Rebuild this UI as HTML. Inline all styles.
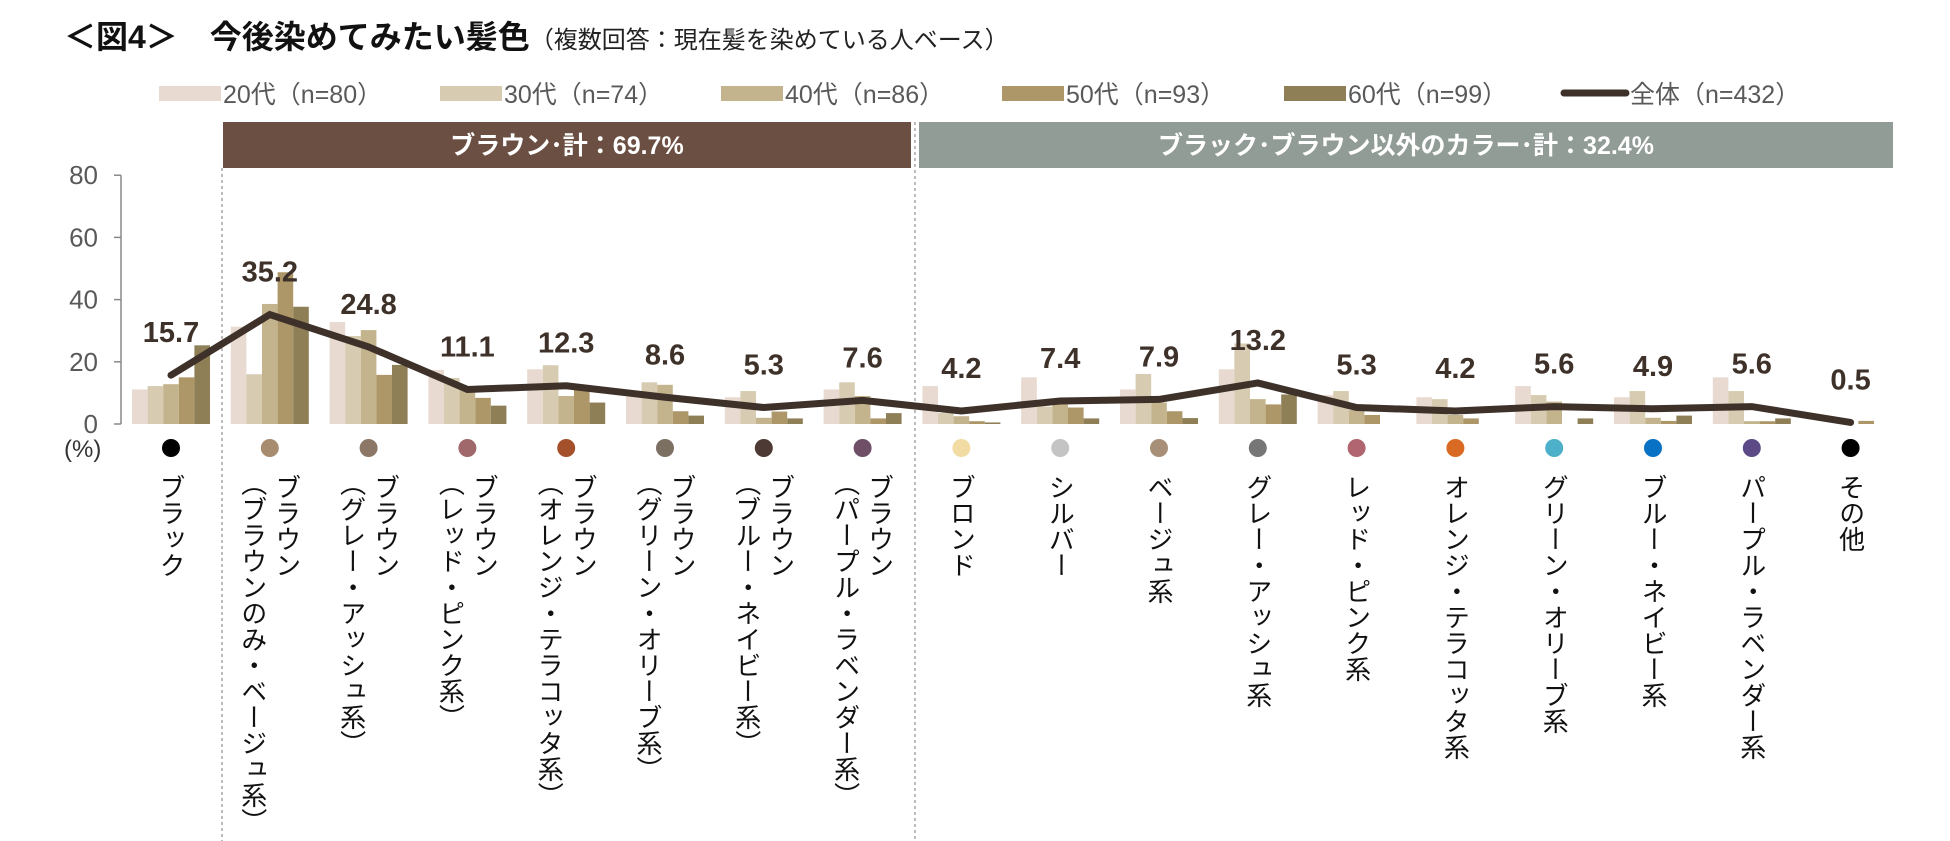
<!DOCTYPE html>
<html><head><meta charset="utf-8"><style>
html,body{margin:0;padding:0;background:#fff;}
svg{display:block;font-family:"Liberation Sans","Noto Sans CJK JP",sans-serif;}
</style></head><body>
<svg id="chart" width="1950" height="841" viewBox="0 0 1950 841" xmlns="http://www.w3.org/2000/svg">
<text x="64" y="48" font-size="32" font-weight="bold" fill="#111">＜図4＞　今後染めてみたい髪色<tspan font-size="24" font-weight="normal" fill="#222">（複数回答：現在髪を染めている人ベース）</tspan></text>
<g id="legend"></g>
<rect x="223" y="122" width="688" height="46" fill="#6b4f42"/>
<text x="567" y="154" font-size="25" font-weight="bold" fill="#fff" text-anchor="middle">ブラウン･計：69.7%</text>
<rect x="919" y="122" width="974" height="46" fill="#929c96"/>
<text x="1406" y="154" font-size="25" font-weight="bold" fill="#fff" text-anchor="middle">ブラック･ブラウン以外のカラー･計：32.4%</text>
<line x1="222" y1="168" x2="222" y2="841" stroke="#999" stroke-width="1.3" stroke-dasharray="3,3"/>
<line x1="915" y1="122" x2="915" y2="841" stroke="#999" stroke-width="1.3" stroke-dasharray="3,3"/>
<g id="axis"></g>
<g id="bars"></g>
<g id="line"></g>
<g id="labels"></g>
<g id="cats"></g>
<text x="64" y="457" font-size="24" fill="#333">(%)</text>
</svg>
<script>
const categories=["ブラック","ブラウン|（ブラウンのみ・ベージュ系）","ブラウン|（グレー・アッシュ系）","ブラウン|（レッド・ピンク系）","ブラウン|（オレンジ・テラコッタ系）","ブラウン|（グリーン・オリーブ系）","ブラウン|（ブルー・ネイビー系）","ブラウン|（パープル・ラベンダー系）","ブロンド","シルバー","ベージュ系","グレー・アッシュ系","レッド・ピンク系","オレンジ・テラコッタ系","グリーン・オリーブ系","ブルー・ネイビー系","パープル・ラベンダー系","その他"];
const dotColors=["#000","#a88c70","#8c7766","#a0686a","#a4502a","#7c7062","#4d3a35","#6e4f66","#f2dca4","#c4c4c4","#a89078","#767676","#b06470","#d86a24","#4bb0c8","#0a72c4","#5c4a86","#000"];
const s20=[11.1,31.3,32.8,17.4,17.6,8.8,8.6,11.1,12.2,15.0,11.1,17.6,9.3,8.6,12.2,8.6,15.0,0];
const s30=[12.2,16.0,28.3,14.8,18.9,13.4,10.6,13.4,3.5,5.6,16.1,25.9,10.6,8.0,9.3,10.6,10.6,0];
const s40=[12.8,38.6,30.2,10.9,9.0,12.6,2.0,9.0,2.5,6.5,6.9,8.0,4.5,2.9,7.2,2.0,0.9,0];
const s50=[15.0,48.8,15.8,8.4,11.5,4.1,4.0,1.8,0.9,5.3,4.1,6.3,2.9,1.8,0,1.0,0.9,1.0];
const s60=[25.3,37.7,19.0,5.9,6.9,2.7,1.8,3.5,0.5,1.8,1.9,9.5,0,0,1.8,2.7,1.8,0];
const total=[15.7,35.2,24.8,11.1,12.3,8.6,5.3,7.6,4.2,7.4,7.9,13.2,5.3,4.2,5.6,4.9,5.6,0.5];
const yTicks=[0,20,40,60,80];
const seriesNames=["20代（n=80）","30代（n=74）","40代（n=86）","50代（n=93）","60代（n=99）"];
const seriesColors=["#e8dad0","#d7ccb1","#c4b48d","#ad9768","#8f7f57"];
const NS="http://www.w3.org/2000/svg";
const x0=121.6,step=98.8,y0=424,yk=3.11;
const xc=i=>x0+step*(i+0.5);
const y=v=>y0-v*yk;
function mk(tag,attrs,parent,txt){const e=document.createElementNS(NS,tag);for(const k in attrs)e.setAttribute(k,attrs[k]);if(txt!==undefined)e.textContent=txt;parent.appendChild(e);return e;}
const ax=document.getElementById('axis');
mk('line',{x1:121,y1:y(80),x2:121,y2:y0,stroke:'#888','stroke-width':1.5},ax);
yTicks.forEach(t=>{
 mk('line',{x1:114,y1:y(t),x2:121,y2:y(t),stroke:'#888','stroke-width':1.5},ax);
 const tl=mk('text',{x:98,y:y(t)+9,'font-size':26,fill:'#595959','text-anchor':'end'},ax,String(t));
 
 
});
const bg=document.getElementById('bars');
const all=[s20,s30,s40,s50,s60];
const bw=15.6;
categories.forEach((c,i)=>{
 all.forEach((s,j)=>{
  const v=s[i];if(v<=0)return;
  const r=mk('rect',{x:xc(i)-39+j*bw,y:y(v),width:bw,height:v*yk,fill:seriesColors[j]},bg);
  
  
 });
});
const lg=document.getElementById('line');
const pl=mk('polyline',{points:total.map((v,i)=>xc(i)+','+y(v)).join(' '),fill:'none',stroke:'#3e3129','stroke-width':7,'stroke-linejoin':'miter','stroke-linecap':'round'},lg);


const lb=document.getElementById('labels');
total.forEach((v,i)=>{
 const t=mk('text',{x:xc(i),y:y(v)-33,'font-size':29,'font-weight':'bold',fill:'#3e3129','text-anchor':'middle'},lb,v.toFixed(1));
 
 
});
const cg=document.getElementById('cats');
categories.forEach((c,i)=>{
 const d=mk('circle',{cx:xc(i),cy:448,r:9,fill:dotColors[i]},cg);
 
 
 const parts=c.split('|');
 if(parts.length===1){
  const t=mk('text',{x:xc(i),y:474,'font-size':26,fill:'#111','writing-mode':'tb'},cg,parts[0]);
  
  
 }else{
  const t1=mk('text',{x:xc(i)+17,y:474,'font-size':26,fill:'#111','writing-mode':'tb'},cg,parts[0]);
  
  
  const t2=mk('text',{x:xc(i)-17,y:470,'font-size':26,fill:'#111','writing-mode':'tb'},cg,parts[1]);
  
  
 }
});
const lgd=document.getElementById('legend');
const lx=[159,440,721,1002,1284];
seriesNames.forEach((n,j)=>{
 const r=mk('rect',{x:lx[j],y:86,width:62,height:15,fill:seriesColors[j]},lgd);
 
 
 const t=mk('text',{x:lx[j]+64,y:103,'font-size':25,fill:'#595959'},lgd,n);
 
 
});
const ll=mk('line',{x1:1564,y1:93,x2:1626,y2:93,stroke:'#3e3129','stroke-width':7,'stroke-linecap':'round'},lgd);


const lt=mk('text',{x:1630,y:103,'font-size':25,fill:'#595959'},lgd,'全体（n=432）');


</script>
</body></html>
